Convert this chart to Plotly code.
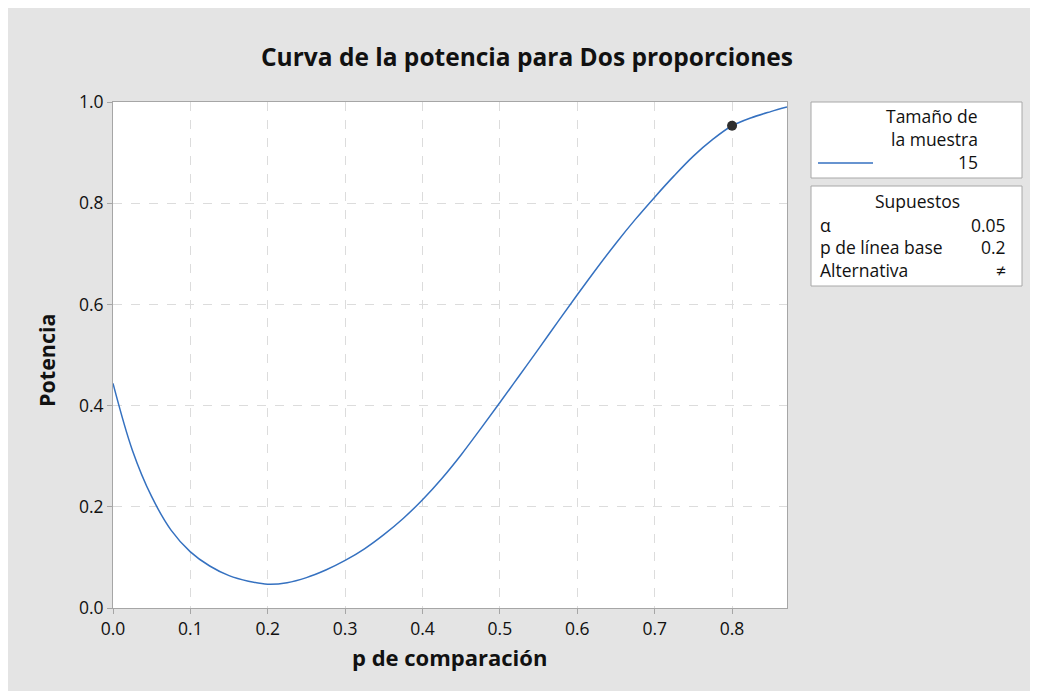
import plotly.graph_objects as go

# Data
p_comparacion = [0.0, 0.025, 0.05, 0.075, 0.1, 0.125, 0.15, 0.175, 0.2, 0.225, 0.25, 0.275,
                 0.3, 0.325, 0.35, 0.375, 0.4, 0.425, 0.45, 0.475, 0.5, 0.525, 0.55, 0.575,
                 0.6, 0.625, 0.65, 0.675, 0.7, 0.725, 0.75, 0.775, 0.8, 0.825, 0.85, 0.871]
potencia = [0.444, 0.312, 0.220, 0.154, 0.111, 0.083, 0.064, 0.053, 0.047, 0.050, 0.060, 0.075,
            0.094, 0.117, 0.145, 0.177, 0.214, 0.256, 0.303, 0.354, 0.406, 0.459, 0.512, 0.566,
            0.619, 0.671, 0.721, 0.768, 0.812, 0.854, 0.893, 0.926, 0.953, 0.969, 0.981, 0.990]
punto_p = [0.8]
punto_potencia = [0.953]

x_ticks = [0.0, 0.1, 0.2, 0.3, 0.4, 0.5, 0.6, 0.7, 0.8]
y_ticks = [0.0, 0.2, 0.4, 0.6, 0.8, 1.0]

FONT = "Open Sans, Noto Sans, DejaVu Sans, sans-serif"
OFF = 8  # page margin of the browser
W, H = 1022, 683
L, R, T, B = 105, 243, 94, 83
PW, PH = W - L - R, H - T - B

def px(x):
    return (x - OFF - L) / PW

def py(y):
    return (H - B - (y - OFF)) / PH

fig = go.Figure()
fig.add_trace(go.Scatter(x=p_comparacion, y=potencia, mode="lines",
                         line=dict(color="#3571c0", width=1.5, shape="spline", smoothing=1.0),
                         showlegend=False, hoverinfo="x+y"))
fig.add_trace(go.Scatter(x=punto_p, y=punto_potencia, mode="markers",
                         marker=dict(color="#2e2e2e", size=10),
                         showlegend=False))

shapes = [
    dict(type="rect", xref="paper", yref="paper", x0=px(811), x1=px(1022), y0=py(178), y1=py(102),
         fillcolor="white", line=dict(color="#a8a8a8", width=1), layer="below"),
    dict(type="rect", xref="paper", yref="paper", x0=px(811), x1=px(1022), y0=py(286), y1=py(186),
         fillcolor="white", line=dict(color="#a8a8a8", width=1), layer="below"),
    dict(type="line", xref="paper", yref="paper", x0=px(818), x1=px(873), y0=py(163), y1=py(163),
         line=dict(color="#3571c0", width=1.5)),
]

def ann(text, x, y, xanchor="left", size=17.5, bold=False, angle=0, color="#111111"):
    return dict(text=f"<b>{text}</b>" if bold else text, xref="paper", yref="paper",
                x=px(x), y=py(y), xanchor=xanchor, yanchor="middle", showarrow=False,
                textangle=angle, font=dict(family=FONT, size=size, color=color))

annotations = [
    ann("Tamaño de", 980, 116, "right"),
    ann("la muestra", 980, 139, "right"),
    ann("15", 980, 162, "right"),
    ann("Supuestos", 917, 201, "center"),
    ann("α", 818, 225),
    ann("0.05", 1008, 225, "right"),
    ann("p de línea base", 818, 247),
    ann("0.2", 1008, 247, "right"),
    ann("Alternativa", 818, 270),
    ann("≠", 1008, 270, "right"),
    ann("p de comparación", 449, 657, "center", size=22, bold=True),
    ann("Potencia", 47, 360, "center", size=21.5, bold=True, angle=-90),
]

axis_common = dict(showline=True, linecolor="#a6a6a6", linewidth=1, mirror=True,
                   ticks="outside", ticklen=5, tickcolor="#a6a6a6", tickwidth=1,
                   showgrid=True, gridcolor="#dcdcdc", griddash="dash", gridwidth=1,
                   zeroline=False, tickfont=dict(family=FONT, size=17.5, color="#111111"),
                   tickformat=".1f")

fig.update_layout(
    width=W, height=H,
    margin=dict(l=L, r=R, t=T, b=B, autoexpand=False),
    paper_bgcolor="#e4e4e4", plot_bgcolor="white",
    title=dict(text="<b>Curva de la potencia para Dos proporciones</b>",
               x=(527 - OFF) / W, xanchor="center", xref="container",
               y=1 - (57 - OFF) / H, yanchor="middle", yref="container",
               font=dict(family=FONT, size=24.5, color="#111111")),
    xaxis=dict(range=[0, 0.871], tickvals=x_ticks, **axis_common),
    yaxis=dict(range=[0, 1], tickvals=y_ticks, **axis_common),
    shapes=shapes, annotations=annotations,
)

fig.write_html("out.html")
